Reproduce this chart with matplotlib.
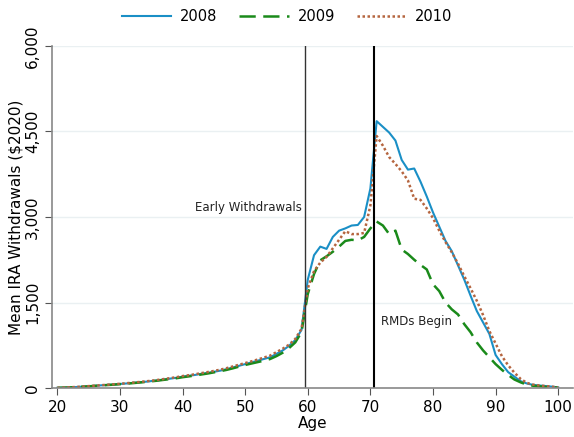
import numpy as np
import matplotlib.pyplot as plt

ages = np.arange(20, 101)

# mean IRA withdrawals ($2020), ages 20..100
w2008 = [5, 8, 12, 18, 25, 32, 40, 48, 55, 62,
         72, 80, 90, 100, 110, 122, 135, 150, 165, 180,
         200, 215, 230, 250, 265, 285, 305, 330, 360, 390,
         420, 450, 480, 510, 540, 600, 660, 740, 840, 1020,
         1900, 2330, 2480, 2440, 2650, 2760, 2800, 2850, 2860, 3000,
         3500, 4680, 4580, 4480, 4340, 4000, 3830, 3850, 3620, 3360,
         3080, 2830, 2580, 2400, 2150, 1900, 1620, 1350, 1150, 950,
         580, 420, 280, 200, 120, 80, 55, 45, 35, 25, 10]
w2009 = [4, 7, 11, 17, 23, 30, 38, 46, 53, 60,
         68, 77, 86, 96, 106, 118, 130, 144, 158, 172,
         190, 205, 220, 238, 255, 275, 295, 318, 345, 375,
         405, 430, 455, 480, 510, 560, 620, 700, 800, 980,
         1650, 2000, 2240, 2310, 2390, 2480, 2580, 2600, 2590, 2650,
         2800, 2920, 2850, 2700, 2760, 2430, 2350, 2250, 2160, 2080,
         1820, 1700, 1500, 1380, 1290, 1120, 980, 800, 660, 540,
         420, 320, 230, 150, 100, 60, 40, 30, 20, 15, 8]
w2010 = [5, 9, 13, 19, 26, 34, 42, 50, 58, 66,
         75, 84, 95, 105, 116, 128, 142, 158, 174, 190,
         210, 225, 242, 262, 280, 300, 322, 348, 378, 408,
         438, 468, 500, 535, 570, 630, 690, 760, 860, 1040,
         1750, 2050, 2200, 2300, 2450, 2600, 2750, 2700, 2700, 2720,
         3200, 4420, 4250, 4050, 3930, 3800, 3640, 3320, 3300, 3150,
         2980, 2760, 2560, 2380, 2180, 1960, 1750, 1530, 1280, 1000,
         780, 560, 400, 270, 160, 90, 60, 45, 35, 25, 10]

yticks = [0, 1500, 3000, 4500, 6000]
ytick_labels = ['0', '1,500', '3,000', '4,500', '6,000']

fig = plt.figure(figsize=(5.74, 4.37), dpi=100)
ax = fig.add_axes([0.0906, 0.112, 0.907, 0.783])

for y in yticks[1:]:
    ax.axhline(y, color='#eaf0f2', linewidth=1, zorder=0)

ax.plot(ages, w2008, color='#1a8fc6', linewidth=1.5, label='2008')
ax.plot(ages, w2009, color='#1a8a1a', linewidth=1.8, linestyle=(0, (6.5, 3)), label='2009')
ax.plot(ages, w2010, color='#b5653f', linewidth=1.8, linestyle=(0, (1, 1)), label='2010')

ax.axvline(59.5, color='#333333', linewidth=1)
ax.axvline(70.5, color='black', linewidth=1.5)
ax.text(59.0, 3170, 'Early Withdrawals', ha='right', va='center', fontsize=8.5, color='#222222')
ax.text(71.7, 1160, 'RMDs Begin', ha='left', va='center', fontsize=8.5, color='#222222')

ax.set_xlim(19.15, 102.3)
ax.set_ylim(0, 6000)
ax.set_xticks(range(20, 101, 10))
ax.set_yticks(yticks)
ax.set_yticklabels(ytick_labels, rotation=90, va='center')
ax.tick_params(labelsize=11, color='#555555', length=5)
ax.set_xlabel('Age', fontsize=11, labelpad=1)
ax.set_ylabel('Mean IRA Withdrawals ($2020)', fontsize=11, labelpad=1)

for s in ['top', 'right']:
    ax.spines[s].set_visible(False)
for s in ['left', 'bottom']:
    ax.spines[s].set_color('#888888')
    ax.spines[s].set_linewidth(1.2)

fig.legend(loc='upper center', bbox_to_anchor=(0.5, 1.01), ncol=3, frameon=False,
           fontsize=10.5, handlelength=3.4, handletextpad=0.6, columnspacing=1.5)

fig.savefig('out.png', dpi=100)
